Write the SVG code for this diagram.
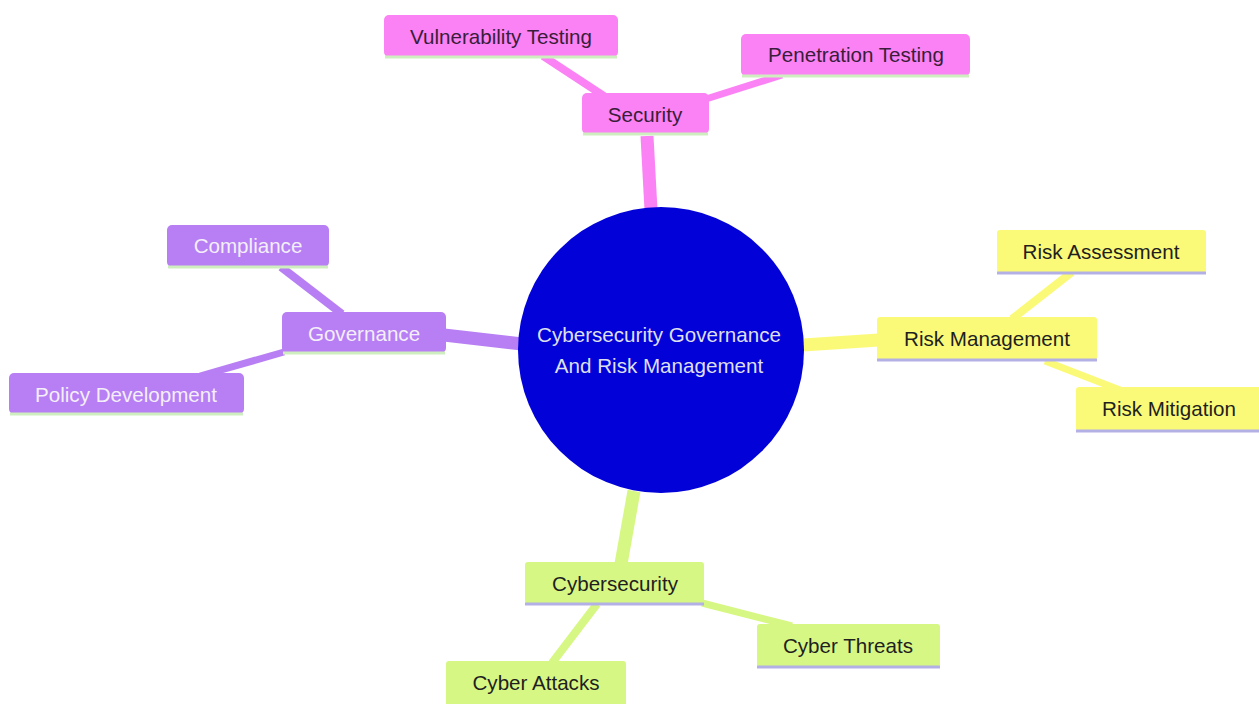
<svg xmlns="http://www.w3.org/2000/svg" width="1259" height="704" viewBox="0 0 1259 704">
<style>
text{font-family:"Liberation Sans",Arial,sans-serif;font-size:20.6px;text-anchor:middle;dominant-baseline:central}
.pk{fill:#fb82f4}.pu{fill:#b77ff3}.ye{fill:#fbfa78}.gr{fill:#d7f784}
.tpk{fill:#3a1d3a}.tpu{fill:#f4eefa}.tye{fill:#1f1f1f}.tgr{fill:#1f1f1f}
.bg{stroke:#cfeec0;stroke-width:3}.bb{stroke:#b3b0e6;stroke-width:3}
.e{fill:none;stroke-linecap:butt}
</style>
<rect width="1259" height="704" fill="#ffffff"/>
<g id="connectors">
<line class="e" x1="651" y1="210" x2="647" y2="136" stroke="#fb82f4" stroke-width="13"/>
<line class="e" x1="604" y1="96" x2="543" y2="56" stroke="#fb82f4" stroke-width="8"/>
<line class="e" x1="706" y1="99" x2="782" y2="75" stroke="#fb82f4" stroke-width="7"/>
<line class="e" x1="522" y1="344" x2="444" y2="335" stroke="#b77ff3" stroke-width="13"/>
<line class="e" x1="342" y1="314" x2="281" y2="267" stroke="#b77ff3" stroke-width="8"/>
<line class="e" x1="284" y1="352" x2="200" y2="376" stroke="#b77ff3" stroke-width="7"/>
<line class="e" x1="803" y1="345" x2="879" y2="340" stroke="#fbfa78" stroke-width="13"/>
<line class="e" x1="1012" y1="319" x2="1072" y2="272" stroke="#fbfa78" stroke-width="8"/>
<line class="e" x1="1045" y1="361" x2="1120" y2="390" stroke="#fbfa78" stroke-width="7"/>
<line class="e" x1="634" y1="491" x2="621" y2="564" stroke="#d7f784" stroke-width="13"/>
<line class="e" x1="597" y1="604" x2="552" y2="663" stroke="#d7f784" stroke-width="8"/>
<line class="e" x1="702" y1="603" x2="792" y2="626" stroke="#d7f784" stroke-width="7"/>
</g>
<g id="root">
<circle cx="661" cy="350" r="143" fill="#0202d8"/>
<text x="659" y="334" fill="#dedfee">Cybersecurity Governance</text>
<text x="659" y="365" fill="#dedfee">And Risk Management</text>
</g>
<g id="security">
<rect class="pk" x="582" y="93" width="127" height="41" rx="5"/>
<line class="bg" x1="583" y1="134" x2="708" y2="134"/>
<text class="tpk" x="645" y="114">Security</text>
</g>
<g id="vulnerability-testing">
<rect class="pk" x="384" y="15" width="234" height="42" rx="5"/>
<line class="bg" x1="385" y1="57" x2="617" y2="57"/>
<text class="tpk" x="501" y="36">Vulnerability Testing</text>
</g>
<g id="penetration-testing">
<rect class="pk" x="741" y="34" width="229" height="42" rx="5"/>
<line class="bg" x1="742" y1="76" x2="969" y2="76"/>
<text class="tpk" x="856" y="54">Penetration Testing</text>
</g>
<g id="governance">
<rect class="pu" x="282" y="312" width="164" height="41" rx="5"/>
<line class="bg" x1="283" y1="353" x2="445" y2="353"/>
<text class="tpu" x="364" y="333">Governance</text>
</g>
<g id="compliance">
<rect class="pu" x="167" y="225" width="162" height="42" rx="5"/>
<line class="bg" x1="168" y1="267" x2="328" y2="267"/>
<text class="tpu" x="248" y="245">Compliance</text>
</g>
<g id="policy-development">
<rect class="pu" x="9" y="373" width="235" height="41" rx="5"/>
<line class="bg" x1="10" y1="414" x2="243" y2="414"/>
<text class="tpu" x="126" y="394">Policy Development</text>
</g>
<g id="risk-management">
<rect class="ye" x="877" y="317" width="220" height="43" rx="3"/>
<line class="bb" x1="877" y1="360" x2="1097" y2="360"/>
<text class="tye" x="987" y="338">Risk Management</text>
</g>
<g id="risk-assessment">
<rect class="ye" x="997" y="230" width="209" height="43" rx="3"/>
<line class="bb" x1="997" y1="273" x2="1206" y2="273"/>
<text class="tye" x="1101" y="251">Risk Assessment</text>
</g>
<g id="risk-mitigation">
<rect class="ye" x="1076" y="387" width="186" height="44" rx="3"/>
<line class="bb" x1="1076" y1="431" x2="1259" y2="431"/>
<text class="tye" x="1169" y="408">Risk Mitigation</text>
</g>
<g id="cybersecurity">
<rect class="gr" x="525" y="562" width="179" height="42" rx="3"/>
<line class="bb" x1="525" y1="604" x2="704" y2="604"/>
<text class="tgr" x="615" y="583">Cybersecurity</text>
</g>
<g id="cyber-threats">
<rect class="gr" x="757" y="624" width="183" height="43" rx="3"/>
<line class="bb" x1="757" y1="667" x2="940" y2="667"/>
<text class="tgr" x="848" y="645">Cyber Threats</text>
</g>
<g id="cyber-attacks">
<rect class="gr" x="446" y="661" width="180" height="45" rx="3"/>
<text class="tgr" x="536" y="682">Cyber Attacks</text>
</g>
</svg>
